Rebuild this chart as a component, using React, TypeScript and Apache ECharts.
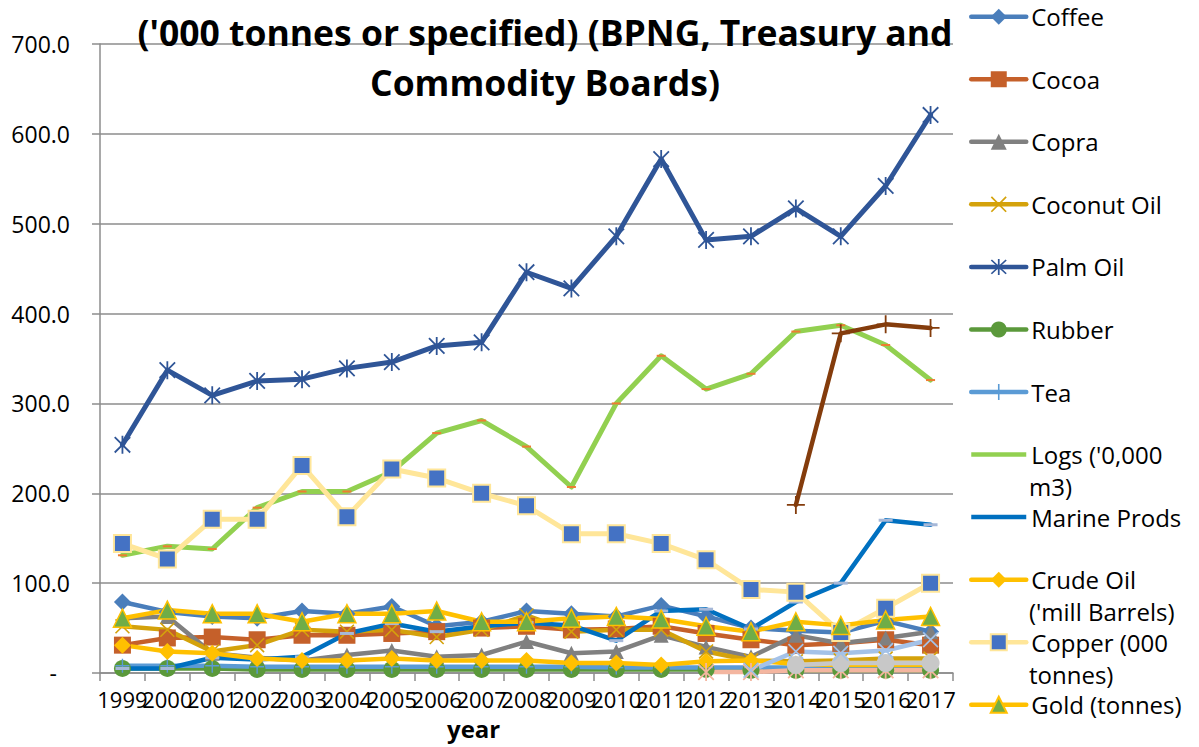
import React, { useEffect, useRef } from "react";
import * as echarts from "echarts";

const years = ["1999","2000","2001","2002","2003","2004","2005","2006","2007","2008","2009","2010","2011","2012","2013","2014","2015","2016","2017"];

const coffee = [79, 68, 63, 61, 69, 66, 74, 52, 57, 69, 66, 63, 75, 63, 50, 47, 45, 58, 46];
const cocoa = [31, 39, 40, 37, 42, 42, 44, 46, 50, 52, 48, 49, 52, 44, 37, 31, 33, 37, 31];
const copra = [61, 63, 22, 17, 14, 20, 25, 18, 20, 35, 22, 24, 42, 29, 18, 42, 33, 39, 46];
const coconutOil = [52, 48, 24, 31, 48, 46, 48, 40, 48, 64, 46, 48, 48, 24, 14, 13, 14, 16, 16];
const palmOil = [254, 337, 309, 325, 327, 339, 346, 364, 368, 446, 428, 486, 572, 482, 486, 517, 486, 542, 621];
const rubber = [5, 5, 5, 4, 4, 4, 4, 4, 4, 4, 4, 4, 4, 4, 3, 3, 3, 3, 3];
const tea = [8, 8, 8, 7, 7, 7, 7, 7, 7, 7, 7, 6, 6, 6, 6, 6, 6, 6, 6];
const logs = [131, 141, 138, 184, 202, 202, 224, 267, 281, 252, 207, 300, 353, 316, 333, 380, 387, 365, 326];
const marineProds = [5, 5, 17, 15, 18, 44, 55, 46, 52, 56, 53, 36, 69, 71, 49, 79, 100, 170, 165];
const crudeOil = [31, 24, 22, 16, 14, 14, 16, 14, 14, 14, 11, 11, 9, 13, 14, 10, 9, 9, 9];
const copper = [144, 127, 171, 171, 231, 174, 227, 217, 200, 186, 155, 155, 144, 126, 93, 90, 45, 72, 100];
const gold = [61, 70, 66, 66, 57, 66, 66, 69, 57, 57, 61, 63, 60, 52, 46, 57, 53, 59, 63];
const lng = [null, null, null, null, null, null, null, null, null, null, null, null, null, null, null, 187, 378, 388, 384];
const cobalt = [null, null, null, null, null, null, null, null, null, null, null, null, null, 1, 1, 3, 3, 3, 3];
const condensate = [null, null, null, null, null, null, null, null, null, null, null, null, null, null, null, 9, 11, 11, 11];
const nickel = [null, null, null, null, null, null, null, null, null, null, null, null, null, null, 3, 24, 22, 25, 37];

const legendNames = [
  "Coffee", "Cocoa", "Copra", "Coconut Oil", "Palm Oil", "Rubber", "Tea",
  "Logs ('0,000 m3)", "Marine Prods", "Crude Oil ('mill Barrels)", "Copper (000 tonnes)", "Gold (tonnes)",
];
const legendFirstLine: Record<string, string> = {
  "Logs ('0,000 m3)": "Logs ('0,000",
  "Crude Oil ('mill Barrels)": "Crude Oil",
  "Copper (000 tonnes)": "Copper (000",
};
const legendBarIcons: Record<string, string> = {
  "Logs ('0,000 m3)": "#92D050",
  "Marine Prods": "#0070C0",
};
const legendSecondLines = [
  { text: "m3)", y: 490 },
  { text: "('mill Barrels)", y: 615 },
  { text: "tonnes)", y: 678 },
];

const titleText = "('000 tonnes or specified) (BPNG, Treasury and\nCommodity Boards)";

const ASTERISK = "path://M9,0H11V20H9Z M0.7,2.1L2.1,0.7L19.3,17.9L17.9,19.3Z M17.9,0.7L19.3,2.1L2.1,19.3L0.7,17.9Z";
const XMARK = "path://M0.7,2.1L2.1,0.7L19.3,17.9L17.9,19.3Z M17.9,0.7L19.3,2.1L2.1,19.3L0.7,17.9Z";
const PLUS = "path://M9,0H11V20H9Z M0,9H20V11H0Z";
const BAR = "path://M0,0H55V4.5H0Z";

const FONT = "'Open Sans', sans-serif";

function mkSeries(name: string, data: (number | null)[], color: string, symbol: string, symbolSize: any, item: any = {}, width = 4.5) {
  return {
    name,
    type: "line",
    data,
    symbol,
    symbolSize,
    symbolKeepAspect: true,
    lineStyle: { color, width, cap: "round", join: "round" },
    itemStyle: { color, ...item },
    emphasis: { disabled: true },
  };
}

export default function App() {
  const ref = useRef<HTMLDivElement>(null);
  useEffect(() => {
    if (!ref.current) return;
    const chart = echarts.init(ref.current, undefined, { renderer: "svg" });
    const series = [
      mkSeries("Coffee", coffee, "#4A7EBB", "diamond", 17),
      mkSeries("Cocoa", cocoa, "#C5602A", "rect", 17),
      mkSeries("Copra", copra, "#808080", "triangle", 15),
      mkSeries("Coconut Oil", coconutOil, "#D4A20B", XMARK, 15),
      mkSeries("Palm Oil", palmOil, "#2F5597", ASTERISK, 18, {}, 5),
      mkSeries("Rubber", rubber, "#5B993B", "circle", 17),
      mkSeries("Tea", tea, "#5B9BD5", PLUS, 14),
      mkSeries("Logs ('0,000 m3)", logs, "#92D050", "rect", [9, 2], { color: "#ED7D31" }, 5),
      mkSeries("Marine Prods", marineProds, "#0070C0", "rect", [14, 3], { color: "#A6B8D8" }),
      mkSeries("Crude Oil ('mill Barrels)", crudeOil, "#FFC000", "diamond", 17),
      mkSeries("Copper (000 tonnes)", copper, "#FFE699", "rect", 17, { color: "#4472C4", borderColor: "#FFE699", borderWidth: 2 }, 5),
      mkSeries("Gold (tonnes)", gold, "#FFC000", "triangle", 18, { color: "#70AD47", borderColor: "#FFC000", borderWidth: 1.5 }),
      mkSeries("LNG", lng, "#843C0C", PLUS, 18),
      mkSeries("Cobalt ('000 tonnes)", cobalt, "#F4B6A0", ASTERISK, 18),
      mkSeries("Condensate ('mill Barrels)", condensate, "#C8C8C8", "circle", 18),
      mkSeries("Nickel ('000 tonnes)", nickel, "#A4C2E8", XMARK, 16),
    ];
    chart.setOption({
      animation: false,
      backgroundColor: "#fff",
      title: {
        text: titleText,
        left: 540,
        top: 2,
        textAlign: "center",
        textStyle: { fontFamily: FONT, fontWeight: "bold", fontSize: 35.5, lineHeight: 50, color: "#000" },
      },
      grid: { left: 100, right: 246, top: 44, bottom: 74 },
      legend: {
        orient: "vertical",
        left: 964,
        top: -1.3,
        itemWidth: 55,
        itemHeight: 20,
        itemGap: 36.55,
        data: legendNames.map((n) =>
          legendBarIcons[n] ? { name: n, icon: BAR, itemStyle: { color: legendBarIcons[n] } } : { name: n }
        ),
        selectedMode: false,
        lineStyle: { width: 4.5 },
        formatter: (n: string) => legendFirstLine[n] || n,
        textStyle: { fontFamily: FONT, fontSize: 24, lineHeight: 26, color: "#000" },
      },
      xAxis: {
        type: "category",
        data: years,
        boundaryGap: true,
        axisLine: { lineStyle: { color: "#8c8c8c", width: 1.5 } },
        axisTick: { show: true, length: 8, lineStyle: { color: "#8c8c8c", width: 1.5 } },
        axisLabel: { interval: 0, fontFamily: FONT, fontSize: 22, margin: 15, color: "#000" },
      },
      yAxis: {
        type: "value",
        min: 0,
        max: 700,
        interval: 100,
        axisLine: { show: true, lineStyle: { color: "#8c8c8c", width: 1.5 } },
        axisTick: { show: true, length: 8, lineStyle: { color: "#8c8c8c", width: 1.5 } },
        splitLine: { lineStyle: { color: "#8c8c8c", width: 1.5 } },
        axisLabel: {
          margin: 30,
          fontFamily: FONT,
          fontSize: 23,
          color: "#000",
          formatter: (v: number) => (v === 0 ? "{d|-}" : v.toFixed(1)),
          rich: { d: { fontFamily: FONT, fontSize: 23, color: "#000", padding: [0, 13, 0, 0] } },
        },
      },
      graphic: [
        ...legendSecondLines.map((l) => ({
          type: "text",
          left: 1029,
          top: l.y - 16,
          style: { text: l.text, font: `24px ${FONT}`, fill: "#000" },
        })),
        {
          type: "text",
          left: 447,
          top: 716,
          style: { text: "year", font: `bold 24px ${FONT}`, fill: "#000" },
        },
      ],
      series,
    });
    return () => chart.dispose();
  }, []);
  return <div ref={ref} style={{ position: "fixed", left: 0, top: 0, width: 1199, height: 747 }} />;
}
